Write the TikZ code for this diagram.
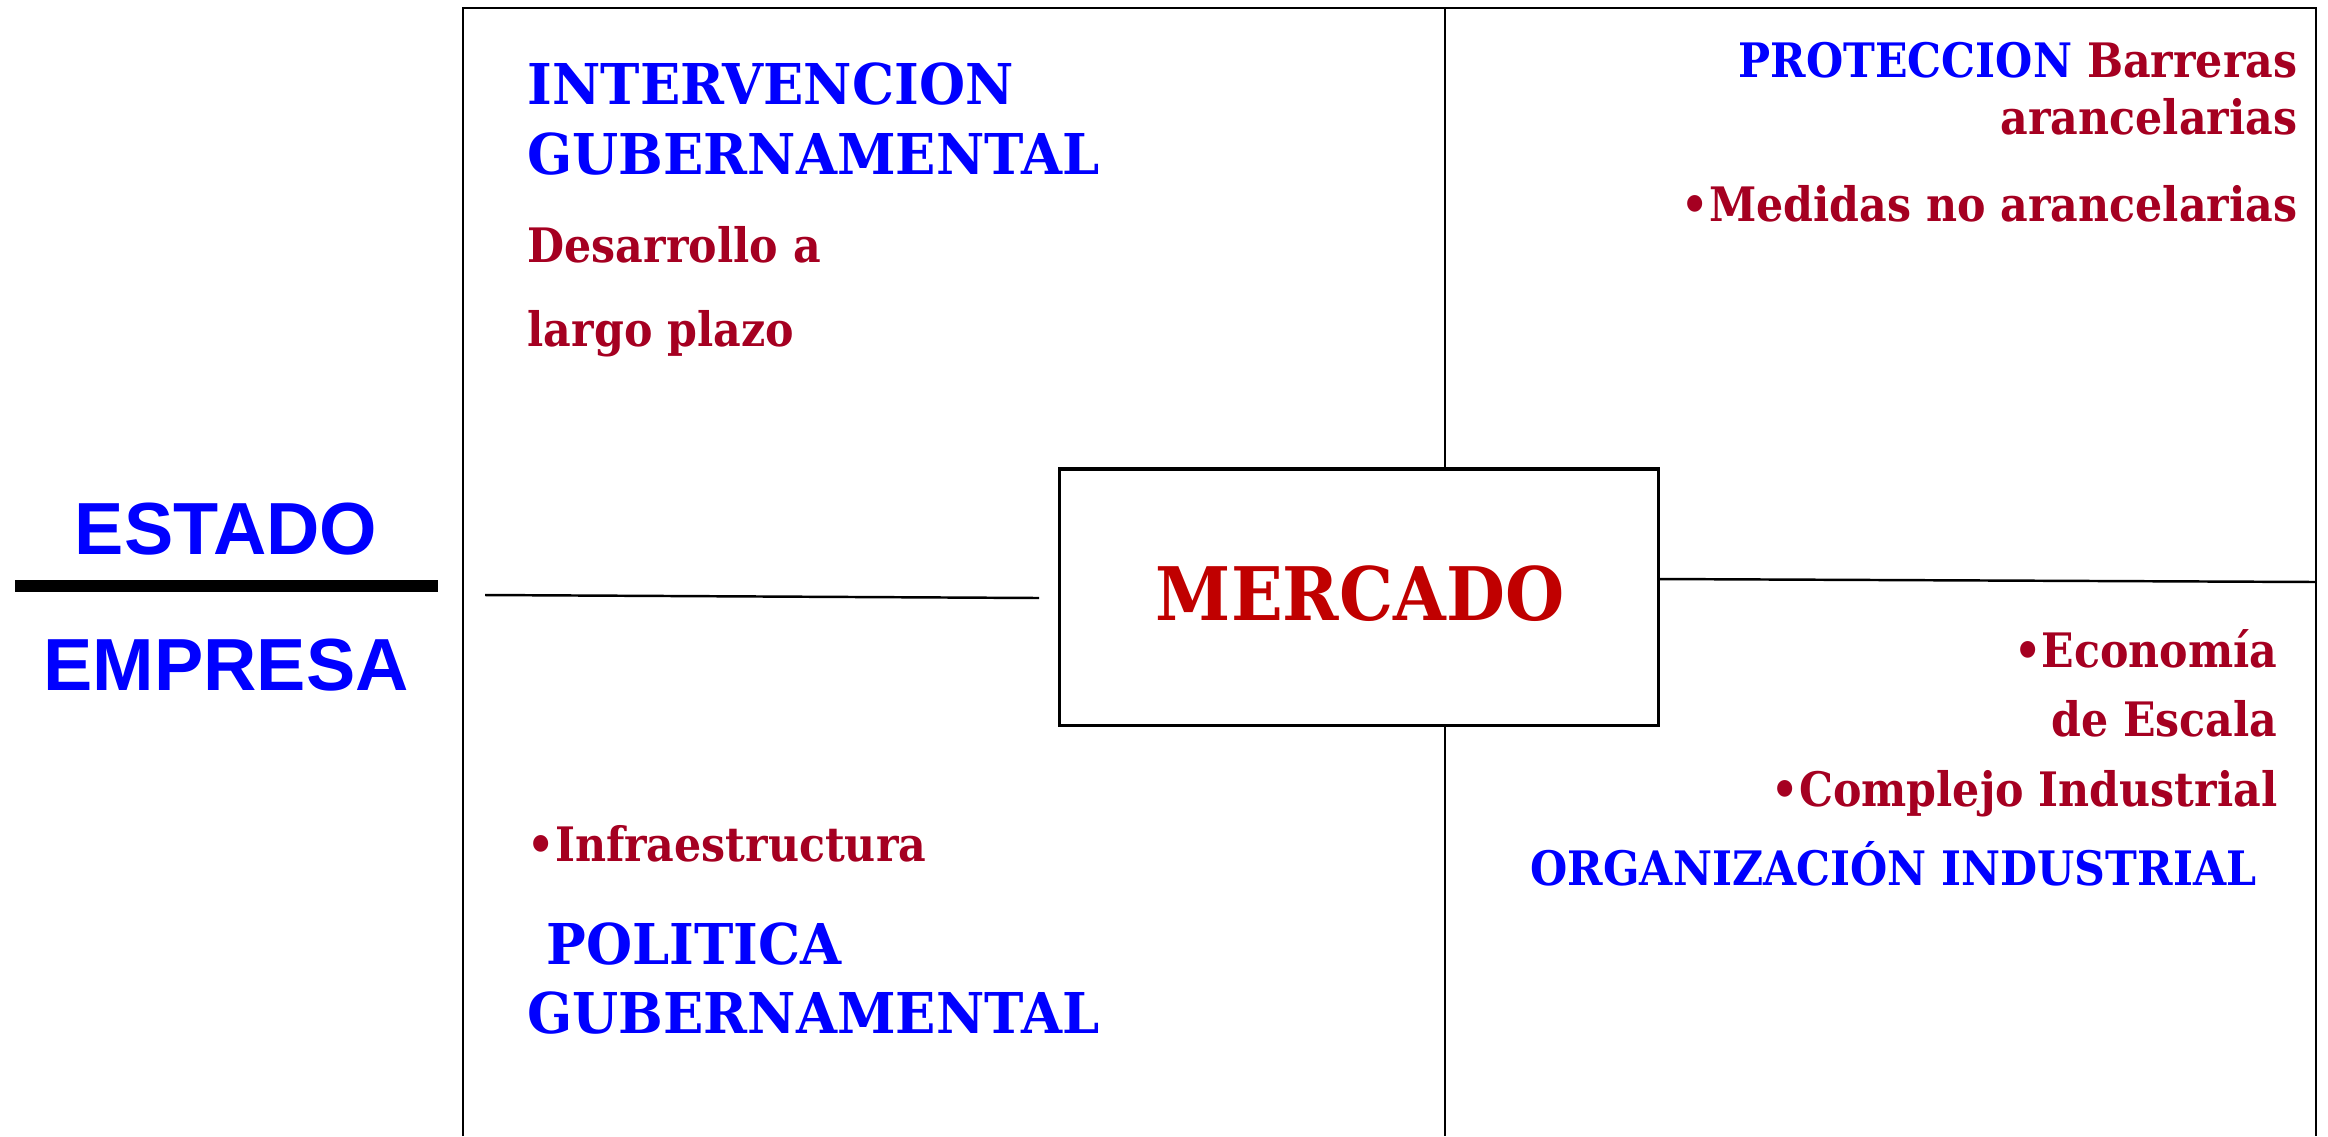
\documentclass[tikz,border=0pt]{standalone}
\usepackage{fontspec}
\setmainfont{DejaVu Serif}
\newfontfamily\slabtit[FakeStretch=0.94]{DejaVu Serif}
\newfontfamily\slabitem[FakeStretch=0.9]{DejaVu Serif}
\newfontfamily\slabmerc[FakeStretch=0.92]{DejaVu Serif}
\newfontfamily\arialfont{Liberation Sans}
\usetikzlibrary{positioning}
\definecolor{azul}{RGB}{0,0,255}
\definecolor{vino}{RGB}{165,0,33}
\definecolor{rojo}{RGB}{192,0,0}

\begin{document}
\begin{tikzpicture}[x=0.01cm, y=-0.01cm,
    titulo/.style={text=azul, font=\slabtit\bfseries\fontsize{16}{19}\selectfont, inner sep=0pt},
    item/.style={text=vino, font=\slabitem\bfseries\fontsize{13.5}{16}\selectfont, inner sep=0pt},
    lado/.style={text=azul, font=\arialfont\bfseries\fontsize{21}{25}\selectfont, inner sep=0pt}]
        \useasboundingbox (0,0) rectangle (2328,1136);

        % marco
        \coordinate (sw) at (463,1136);
        \coordinate (nw) at (463,8);
        \coordinate (ne) at (2316,8);
        \coordinate (se) at (2316,1136);
        \draw[line width=0.7pt] (sw) -- (nw) -- (ne) -- (se);

        % centro
        \node[draw, line width=0.9pt, minimum width=5.98cm, minimum height=2.56cm] (merc) at (1359,597) {};
        \node[text=rojo, font=\slabmerc\bfseries\fontsize{21}{25}\selectfont] (mercado) at (1360,594) {MERCADO};

        \coordinate (arriba) at (1445,8);
        \coordinate (abajo) at (1445,1136);
        \draw[line width=0.7pt] (arriba) -- (arriba |- merc.north);
        \draw[line width=0.7pt] (merc.south -| abajo) -- (abajo);
        \coordinate (izq1) at (485,595);
        \coordinate (izq2) at (1039,598);
        \draw[line width=0.7pt] (izq1) -- (izq2);
        \coordinate (der1) at (1658,579);
        \coordinate (der2) at (2316,582);
        \draw[line width=0.7pt] (der1) -- (der2);

        % estado / empresa
        \node[lado, anchor=base] (estado) at (226,554) {ESTADO};
        \node[lado, anchor=base] (empresa) at (226,690) {EMPRESA};
        \coordinate (barra1) at (15,586);
        \coordinate (barra2) at (438,586);
        \draw[line width=0.12cm] (barra1) -- (barra2);

        % arriba izquierda
        \node[titulo, anchor=base west] (interv) at (527,104) {INTERVENCION};
        \node[titulo, anchor=base west] (guber1) at (527,174) {GUBERNAMENTAL};
        \node[item, anchor=base west] (desarr) at (527,262) {Desarrollo a};
        \node[item, anchor=base west] (plazo) at (527,346) {largo plazo};

        % arriba derecha
        \node[item, anchor=base east] (protec) at (2298,77) {{\color{azul}PROTECCION} Barreras};
        \node[item, anchor=base east] (aranc) at (2298,134) {arancelarias};
        \node[item, anchor=base east] (medidas) at (2298,221) {•Medidas no arancelarias};

        % abajo izquierda
        \node[item, anchor=base west] (infra) at (527,861) {•Infraestructura};
        \node[titulo, anchor=base west] (polit) at (546,964) {POLITICA};
        \node[titulo, anchor=base west] (guber2) at (527,1033) {GUBERNAMENTAL};

        % abajo derecha
        \node[item, anchor=base east] (econ) at (2278,667) {•Economía};
        \node[item, anchor=base east] (escala) at (2278,736) {de Escala};
        \node[item, anchor=base east] (compl) at (2278,806) {•Complejo Industrial};
        \node[item, text=azul, anchor=base east] (organ) at (2257,885) {ORGANIZACIÓN INDUSTRIAL};
      \end{tikzpicture}
\end{document}
